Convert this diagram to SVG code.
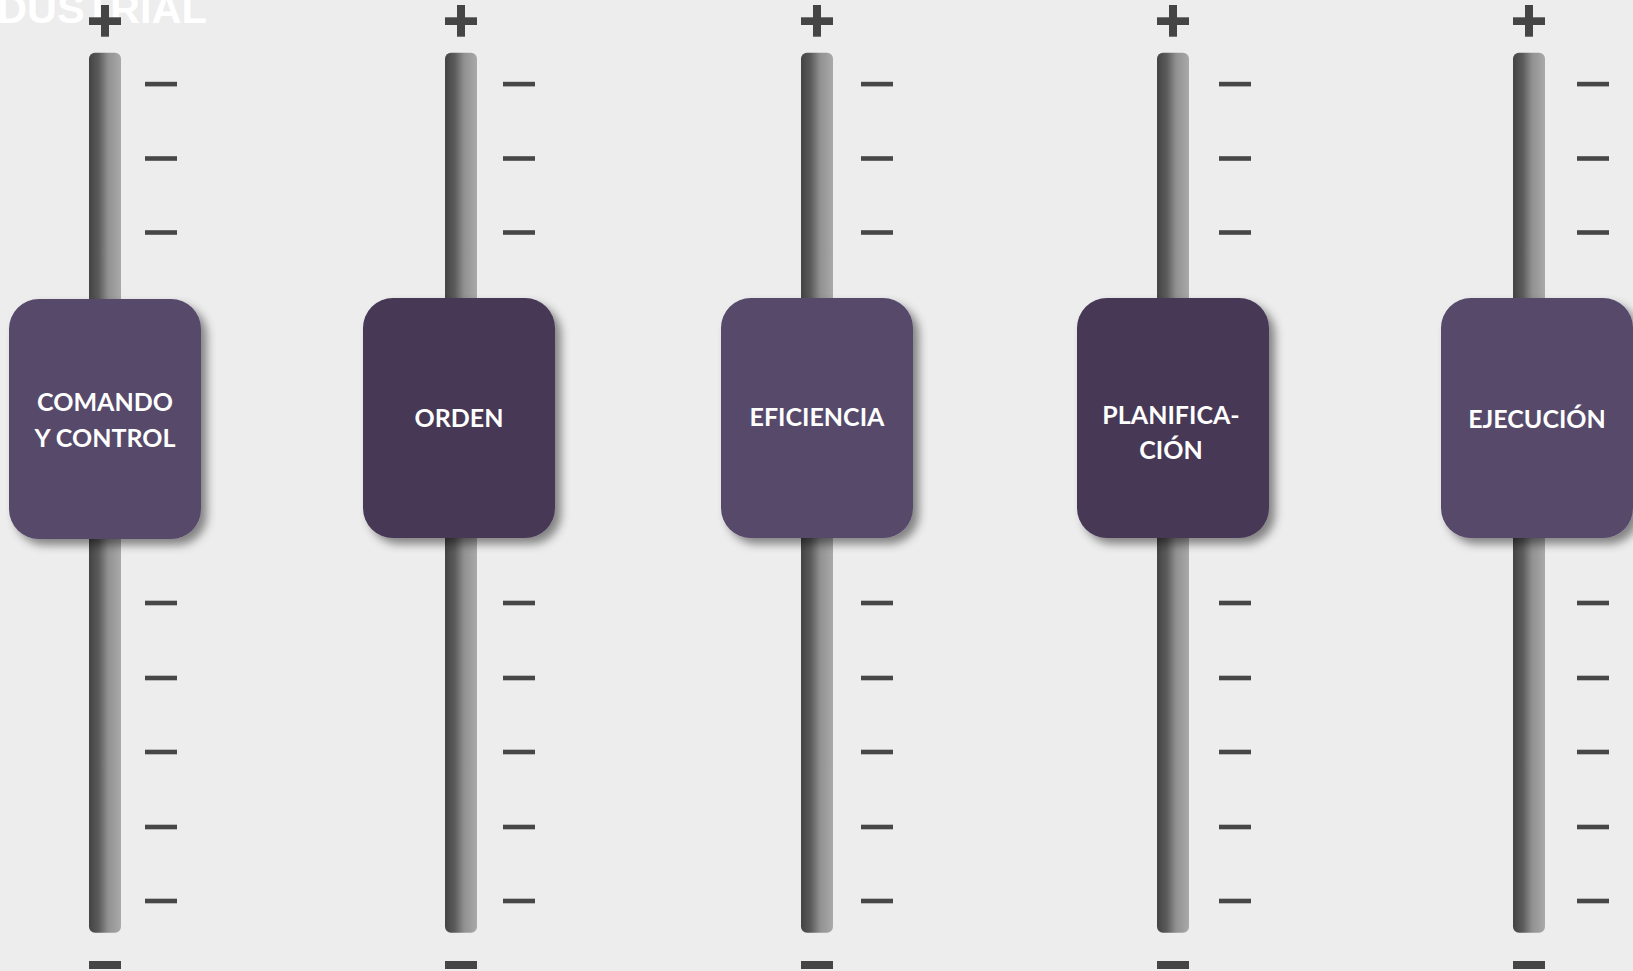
<svg xmlns="http://www.w3.org/2000/svg" xmlns:xlink="http://www.w3.org/1999/xlink" width="1633" height="971" viewBox="0 0 1633 971">
  <style>
    .bg { fill: #ededed; }
    .track { fill: url(#trackGrad); }
    .mark { fill: #454545; }
    .tick { fill: #474747; }
    .knobA { fill: #56486b; filter: url(#shadow); }
    .knobB { fill: #463857; filter: url(#shadow); }
    .label { font-family: Lato, "Open Sans", "Liberation Sans", sans-serif; font-weight: 700; font-size: 25px; fill: #ffffff; text-anchor: middle; }
    .title { font-family: "Liberation Sans", Arial, sans-serif; font-weight: 700; font-size: 41px; fill: #ffffff; }
  </style>
  <defs>
    <linearGradient id="trackGrad" x1="0" y1="0" x2="1" y2="0">
      <stop offset="0" stop-color="#434343"/>
      <stop offset="0.3" stop-color="#5b5b5b"/>
      <stop offset="0.6" stop-color="#919191"/>
      <stop offset="1" stop-color="#a9a9a9"/>
    </linearGradient>
    <filter id="shadow" x="-20%" y="-20%" width="150%" height="150%">
      <feDropShadow dx="6" dy="6" stdDeviation="5" flood-color="#000000" flood-opacity="0.45"/>
    </filter>
    <g id="slider">
      <rect class="track" x="0" y="52.7" width="32" height="880" rx="6" ry="6"/>
      <rect class="mark" x="0" y="17.3" width="32" height="7.7"/>
      <rect class="mark" x="12" y="5" width="8" height="31.7"/>
      <rect class="mark" x="0" y="961" width="32" height="8"/>
    </g>
    <g id="ticks">
      <rect class="tick" x="0" y="81.8" width="32" height="4.6"/>
      <rect class="tick" x="0" y="156.2" width="32" height="4.6"/>
      <rect class="tick" x="0" y="230.2" width="32" height="4.6"/>
      <rect class="tick" x="0" y="600.7" width="32" height="4.6"/>
      <rect class="tick" x="0" y="675.7" width="32" height="4.6"/>
      <rect class="tick" x="0" y="749.7" width="32" height="4.6"/>
      <rect class="tick" x="0" y="824.7" width="32" height="4.6"/>
      <rect class="tick" x="0" y="898.7" width="32" height="4.6"/>
    </g>
  </defs>
  <rect class="bg" x="0" y="0" width="1633" height="971"/>
  <text class="title" x="-3" y="23" textLength="210" lengthAdjust="spacingAndGlyphs">DUSTRIAL</text>

  <g id="node-comando">
    <use xlink:href="#slider" href="#slider" x="89" y="0"/>
    <use xlink:href="#ticks" href="#ticks" x="145" y="0"/>
    <rect class="knobA" x="9" y="299" width="192" height="240" rx="30" ry="30"/>
    <text class="label" x="105" y="411">COMANDO</text>
    <text class="label" x="105" y="446.7">Y CONTROL</text>
  </g>

  <g id="node-orden">
    <use xlink:href="#slider" href="#slider" x="445" y="0"/>
    <use xlink:href="#ticks" href="#ticks" x="503" y="0"/>
    <rect class="knobB" x="363" y="298" width="192" height="240" rx="30" ry="30"/>
    <text class="label" x="459" y="426.7">ORDEN</text>
  </g>

  <g id="node-eficiencia">
    <use xlink:href="#slider" href="#slider" x="801" y="0"/>
    <use xlink:href="#ticks" href="#ticks" x="861" y="0"/>
    <rect class="knobA" x="721" y="298" width="192" height="240" rx="30" ry="30"/>
    <text class="label" x="817" y="426">EFICIENCIA</text>
  </g>

  <g id="node-planificacion">
    <use xlink:href="#slider" href="#slider" x="1157" y="0"/>
    <use xlink:href="#ticks" href="#ticks" x="1219" y="0"/>
    <rect class="knobB" x="1077" y="298" width="192" height="240" rx="30" ry="30"/>
    <text class="label" x="1171" y="424">PLANIFICA-</text>
    <text class="label" x="1171" y="459.3">CIÓN</text>
  </g>

  <g id="node-ejecucion">
    <use xlink:href="#slider" href="#slider" x="1513" y="0"/>
    <use xlink:href="#ticks" href="#ticks" x="1577" y="0"/>
    <rect class="knobA" x="1441" y="298" width="192" height="240" rx="30" ry="30"/>
    <text class="label" x="1537" y="428.3">EJECUCIÓN</text>
  </g>
</svg>
